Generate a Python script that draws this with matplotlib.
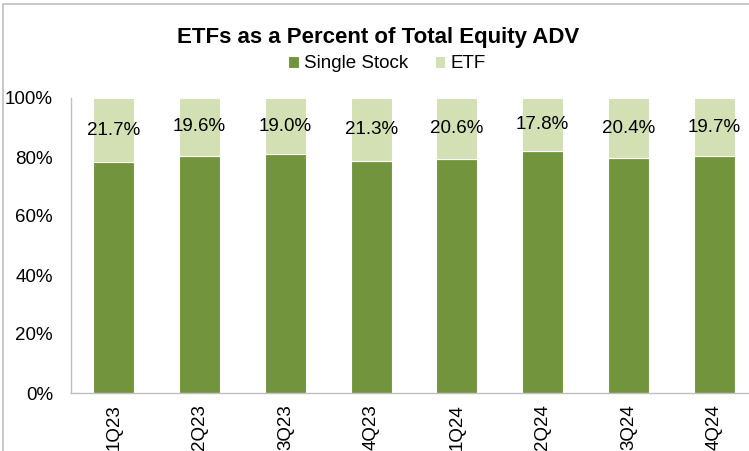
import matplotlib.pyplot as plt
import numpy as np
from matplotlib.patches import Rectangle
from matplotlib.ticker import PercentFormatter

plt.rcParams["font.family"] = ["Liberation Sans", "DejaVu Sans"]

# =========================
# DATOS
# =========================
QUARTERS = ["1Q23", "2Q23", "3Q23", "4Q23", "1Q24", "2Q24", "3Q24", "4Q24"]
ETF_PCT = [21.7, 19.6, 19.0, 21.3, 20.6, 17.8, 20.4, 19.7]
SINGLE_PCT = [100 - v for v in ETF_PCT]

DARK_GREEN = "#71943C"
LIGHT_GREEN = "#D2E0B3"
AXIS_GRAY = "#BFBFBF"
FS = 13.5


def main() -> None:
    W, H = 749, 451
    fig = plt.figure(figsize=(W / 100, H / 100), dpi=100)

    # marco exterior (solo se ven los bordes superior e izquierdo)
    fig.patches.append(Rectangle((3 / W, -0.1), 1.2, 1 - 4 / H + 0.1,
                                 transform=fig.transFigure, fill=False,
                                 edgecolor=AXIS_GRAY, linewidth=1.2))

    ax = fig.add_axes([71 / W, (H - 393) / H, 686 / W, 295 / H])
    x = np.arange(len(QUARTERS))
    single = np.array(SINGLE_PCT)
    etf = np.array(ETF_PCT)

    ax.bar(x, single, width=0.48, color=DARK_GREEN, edgecolor="white",
           linewidth=0.8, label="Single Stock")
    ax.bar(x, etf, width=0.48, bottom=single, color=LIGHT_GREEN,
           edgecolor="white", linewidth=0.8, label="ETF")

    for xi, s, e in zip(x, single, etf):
        ax.text(xi, s + e / 2, f"{e:.1f}%", ha="center", va="center",
                fontsize=FS, color="black")

    ax.set_xlim(-0.5, 7.5)
    ax.set_ylim(0, 100)
    ax.set_yticks(np.arange(0, 101, 20))
    ax.yaxis.set_major_formatter(PercentFormatter(decimals=0))
    ax.set_xticks(x)
    ax.set_xticklabels(QUARTERS, rotation=90)
    ax.tick_params(axis="both", length=0, labelsize=FS)
    ax.tick_params(axis="y", pad=13)
    ax.tick_params(axis="x", pad=8)

    for side in ("top", "right"):
        ax.spines[side].set_visible(False)
    for side in ("left", "bottom"):
        ax.spines[side].set_color(AXIS_GRAY)
        ax.spines[side].set_linewidth(1.0)

    fig.text(378 / W, 1 - 38 / H, "ETFs as a Percent of Total Equity ADV",
             ha="center", va="center", fontsize=16, fontweight="bold")
    fig.legend(loc="center", bbox_to_anchor=(387 / W, 1 - 64 / H), ncol=2,
               frameon=False, fontsize=FS, handlelength=0.55, handleheight=0.55,
               handletextpad=0.3, columnspacing=1.4)

    fig.savefig("out.png", dpi=100)


if __name__ == "__main__":
    main()
